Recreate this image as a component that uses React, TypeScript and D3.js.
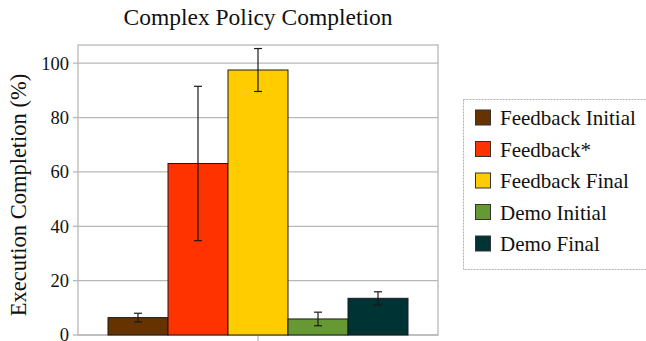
import React from "react";
import * as d3 from "d3";

// Series shown as side-by-side bars in a single category
const seriesNames = ["Feedback Initial", "Feedback*", "Feedback Final", "Demo Initial", "Demo Final"];
const seriesValues = [6.4, 63.1, 97.5, 5.9, 13.5];
const seriesErrors = [1.6, 28.4, 7.9, 2.5, 2.4];
const seriesColors = ["#663300", "#ff3300", "#ffcc00", "#669933", "#003333"];
const yTicks = [0, 20, 40, 60, 80, 100];

const W = 646;
const H = 341;
const plot = { left: 78, right: 438, top: 45, bottom: 335 };
const font = "Liberation Serif, Times, serif";
const textStyle = { fontFamily: font };

export default function App() {
  const y = d3
    .scaleLinear()
    .domain([0, 106.7])
    .range([plot.bottom, plot.top]);

  // the group of bars leaves 1/12 of the plot width free on each side
  const groupStart = plot.left + (plot.right - plot.left) / 12;
  const groupEnd = plot.right - (plot.right - plot.left) / 12;
  const x = d3
    .scaleBand<string>()
    .domain(seriesNames)
    .range([groupStart, groupEnd])
    .padding(0);

  const centerX = (plot.left + plot.right) / 2;

  return (
    <svg
      width={W}
      height={H}
      style={{ position: "absolute", left: 0, top: 0, background: "#fff", fontFamily: font }}
    >
      {/* title */}
      <text x={258} y={25} textAnchor="middle" fontSize={23.5} fill="#111" style={textStyle}>
        Complex Policy Completion
      </text>

      {/* horizontal grid */}
      {yTicks.map((t) => (
        <line
          key={"g" + t}
          x1={plot.left}
          x2={plot.right}
          y1={y(t)}
          y2={y(t)}
          stroke="#b8b8b8"
          strokeWidth={1.3}
        />
      ))}

      {/* plot frame */}
      <rect
        x={plot.left}
        y={plot.top}
        width={plot.right - plot.left}
        height={plot.bottom - plot.top}
        fill="none"
        stroke="#b8b8b8"
        strokeWidth={1.3}
      />

      {/* y ticks and labels */}
      {yTicks.map((t) => (
        <g key={"t" + t}>
          <line x1={plot.left - 5} x2={plot.left} y1={y(t)} y2={y(t)} stroke="#b8b8b8" strokeWidth={1.3} />
          <text
            x={plot.left - 9}
            y={y(t)}
            dy="0.35em"
            textAnchor="end"
            fontSize={18.5}
            fill="#111"
            style={textStyle}
          >
            {t}
          </text>
        </g>
      ))}

      {/* x tick */}
      <line x1={centerX} x2={centerX} y1={plot.bottom} y2={plot.bottom + 7} stroke="#b8b8b8" strokeWidth={1.3} />

      {/* y axis title */}
      <text
        transform={`translate(26, ${(plot.top + plot.bottom) / 2 + 5}) rotate(-90)`}
        textAnchor="middle"
        fontSize={22.5}
        fill="#111"
        style={textStyle}
      >
        Execution Completion (%)
      </text>

      {/* bars */}
      {seriesNames.map((name, i) => (
        <rect
          key={"b" + name}
          x={x(name)!}
          y={y(seriesValues[i])}
          width={x.bandwidth()}
          height={y(0) - y(seriesValues[i])}
          fill={seriesColors[i]}
          stroke="#1a1a1a"
          strokeWidth={1}
        />
      ))}

      {/* error bars */}
      {seriesNames.map((name, i) => {
        const cx = x(name)! + x.bandwidth() / 2;
        const hi = y(seriesValues[i] + seriesErrors[i]);
        const lo = y(seriesValues[i] - seriesErrors[i]);
        return (
          <g key={"e" + name} stroke="#1a1a1a" strokeWidth={1.2}>
            <line x1={cx} x2={cx} y1={hi} y2={lo} />
            <line x1={cx - 4} x2={cx + 4} y1={hi} y2={hi} />
            <line x1={cx - 4} x2={cx + 4} y1={lo} y2={lo} />
          </g>
        );
      })}

      {/* legend */}
      <rect
        x={463.5}
        y={99.5}
        width={200}
        height={170}
        fill="#fff"
        stroke="#b0b0b0"
        strokeWidth={1}
        strokeDasharray="2,1"
      />
      {seriesNames.map((name, i) => {
        const cy = 118 + i * 31.5;
        return (
          <g key={"l" + name}>
            <rect
              x={475.5}
              y={cy - 8}
              width={15}
              height={15}
              fill={seriesColors[i]}
              stroke="#333"
              strokeWidth={1}
            />
            <text x={500} y={cy} dy="0.35em" fontSize={21} fill="#111" style={textStyle}>
              {name}
            </text>
          </g>
        );
      })}
    </svg>
  );
}
